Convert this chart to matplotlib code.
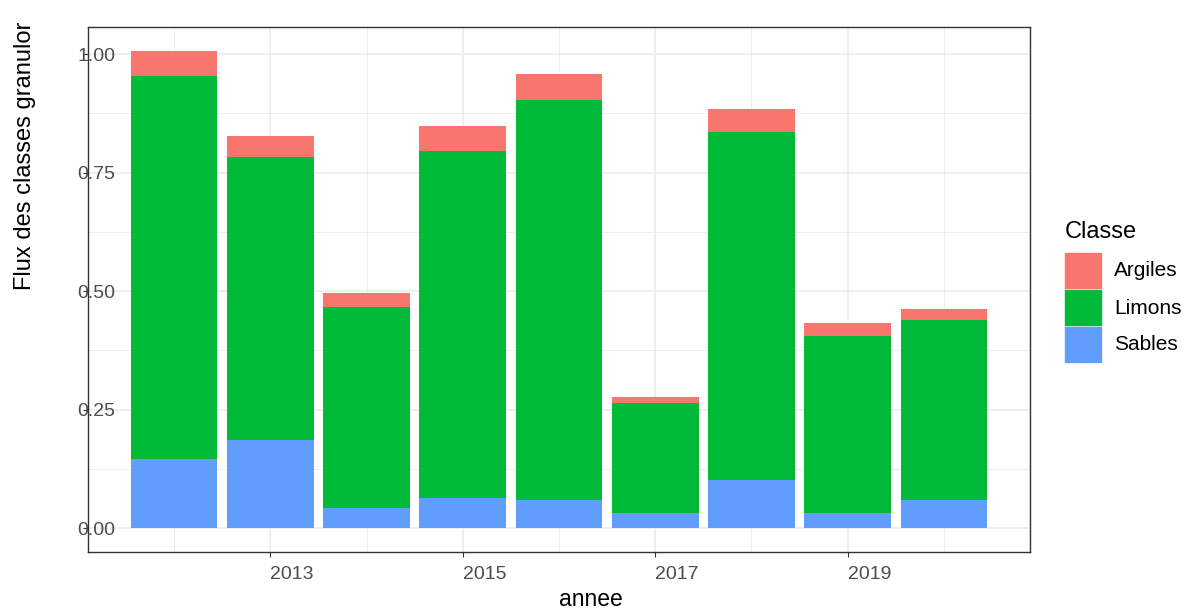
import numpy as np
import matplotlib.pyplot as plt

# values (cumulative tops converted to per-class flux)
annees = [2012, 2013, 2014, 2015, 2016, 2017, 2018, 2019, 2020]
sables = [0.145, 0.185, 0.042, 0.064, 0.060, 0.032, 0.102, 0.032, 0.060]
limons = [0.809, 0.599, 0.425, 0.732, 0.844, 0.233, 0.734, 0.374, 0.379]
argiles = [0.053, 0.044, 0.030, 0.053, 0.055, 0.012, 0.048, 0.027, 0.024]

classes = ["Argiles", "Limons", "Sables"]
couleurs = {"Argiles": "#F8766D", "Limons": "#00BA38", "Sables": "#619CFF"}

plt.rcParams["font.family"] = ["Liberation Sans", "DejaVu Sans"]

W, H = 1184, 610
fig = plt.figure(figsize=(W / 100, H / 100), dpi=100)
ax = fig.add_axes([88 / W, 1 - 552 / H, (1030 - 88) / W, (552 - 27) / H])

x = np.array(annees)
s = np.array(sables)
l = np.array(limons)
a = np.array(argiles)
ax.bar(x, s, width=0.9, color=couleurs["Sables"], zorder=3)
ax.bar(x, l, width=0.9, bottom=s, color=couleurs["Limons"], zorder=3)
ax.bar(x, a, width=0.9, bottom=s + l, color=couleurs["Argiles"], zorder=3)

top = (s + l + a).max()
ax.set_ylim(-0.05 * top, 1.05 * top)
ax.set_xlim(2011.55 - 0.445, 2020.45 + 0.445)

ax.set_xticks([2013, 2015, 2017, 2019])
ax.set_xticks([2012, 2014, 2016, 2018, 2020], minor=True)
ax.set_yticks([0, 0.25, 0.5, 0.75, 1.0])
ax.set_yticks([0.125, 0.375, 0.625, 0.875], minor=True)
ax.set_yticklabels(["0.00", "0.25", "0.50", "0.75", "1.00"])

ax.grid(which="major", color="#EBEBEB", lw=1.1, zorder=0)
ax.grid(which="minor", color="#EBEBEB", lw=0.6, zorder=0)
ax.set_axisbelow(True)

for sp in ax.spines.values():
    sp.set_color("#333333")
    sp.set_linewidth(1.0)

ax.tick_params(which="minor", length=0)
ax.tick_params(which="major", length=3.6, width=0.8, color="#333333",
               labelcolor="#4D4D4D", labelsize=14)
ax.tick_params(axis="y", pad=4.3)
ax.tick_params(axis="x", pad=6.5)
for t in ax.get_yticklabels():
    t.set_horizontalalignment("left")
for t in ax.get_xticklabels():
    t.set_horizontalalignment("left")

fig.text(559 / W, 1 - 606 / H, "annee", fontsize=16.5, color="black",
         ha="left", va="baseline")
fig.text(36 / W, 1 - 290 / H, "Flux des classes granulor", fontsize=17,
         color="black", rotation=90, ha="right", va="bottom")

# legend
fig.text(1065 / W, 1 - 238 / H, "Classe", fontsize=17, ha="left", va="baseline")
for i, c in enumerate(classes):
    y0 = 253 + i * 37
    fig.patches.append(plt.Rectangle((1065 / W, 1 - (y0 + 35) / H), 36 / W, 35 / H,
                                     transform=fig.transFigure, color=couleurs[c]))
    fig.text(1114 / W, 1 - (y0 + 18) / H, c, fontsize=15, ha="left", va="center")

fig.savefig("out.png", dpi=100)
